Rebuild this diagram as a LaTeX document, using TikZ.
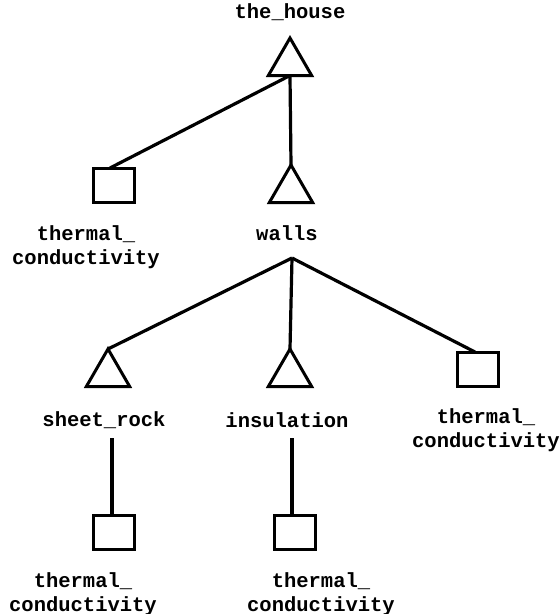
\documentclass[tikz,border=0pt]{standalone}
\usepackage{fontspec}
\newfontfamily\labelfont{Liberation Mono}
\usetikzlibrary{shapes.geometric}
\tikzset{
  tri/.style={draw, regular polygon, regular polygon sides=3, minimum size=50pt,
    inner sep=0pt, outer sep=0pt, line width=3pt},
  sq/.style={draw, rectangle, minimum width=41pt, minimum height=34pt,
    inner sep=0pt, outer sep=0pt, line width=3pt},
  lbl/.style={font=\labelfont\bfseries\fontsize{20.5}{23.5}\selectfont, align=center, inner sep=0pt},
  edge/.style={line width=3.2pt}
}
\begin{document}
\begin{tikzpicture}[x=1pt,y=-1pt]
\useasboundingbox (0,0) rectangle (560,614);
% labels
\node[lbl] (lhouse) at (290,12) {the\_house};
\node[lbl] (lwalls) at (287,233) {walls};
\node[lbl] (ltc1) at (86,247) {thermal\_\\conductivity};
\node[lbl] (lsheet) at (104,420) {sheet\_rock};
\node[lbl] (lins) at (287,420) {insulation};
\node[lbl] (ltc2) at (486,430) {thermal\_\\conductivity};
\node[lbl] (ltc3) at (83,594) {thermal\_\\conductivity};
\node[lbl] (ltc4) at (321,594) {thermal\_\\conductivity};
% shapes
\node[tri] (t0) at (290,63) {};
\node[tri] (t1) at (291,190) {};
\node[tri] (t2) at (108,374) {};
\node[tri] (t3) at (290,374) {};
\node[sq] (s1) at (114,185) {};
\node[sq] (s2) at (478,369) {};
\node[sq] (s3) at (114,532) {};
\node[sq] (s4) at (295,532) {};
% connector points
\coordinate (wb) at (292,258);
\coordinate (sb) at (112,438);
\coordinate (ib) at (292,438);
% connectors
\draw[edge] (t0.side 2) -- ([xshift=-4pt]s1.north);
\draw[edge] (t0.side 2) -- (t1.corner 1);
\draw[edge] (wb) -- (t2.corner 1);
\draw[edge] (wb) -- (t3.corner 1);
\draw[edge] (wb) -- ([xshift=-3pt]s2.north);
\draw[edge] (sb) -- (sb |- s3.north);
\draw[edge] (ib) -- (ib |- s4.north);
\end{tikzpicture}
\end{document}
